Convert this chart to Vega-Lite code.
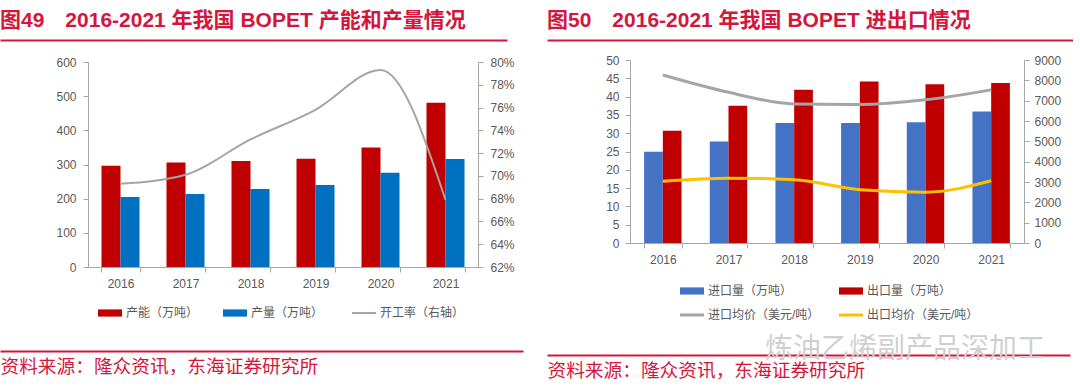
{
  "$schema": "https://vega.github.io/schema/vega-lite/v6.json",
  "padding": {"top": 10, "left": 0, "right": 0, "bottom": 0},
  "background": "white",
  "config": {
    "view": {"stroke": null},
    "font": "Liberation Sans, Noto Sans CJK SC",
    "axis": {
      "labelFont": "Liberation Sans, Noto Sans CJK SC",
      "labelFontSize": 12,
      "labelColor": "#595959",
      "domainColor": "#A6A6A6",
      "tickColor": "#A6A6A6",
      "grid": false,
      "tickSize": 5
    },
    "legend": {
      "labelFont": "Liberation Sans, Noto Sans CJK SC",
      "labelFontSize": 12,
      "labelColor": "#595959",
      "padding": 0,
      "labelOffset": 10,
      "symbolSize": 576
    }
  },
  "spacing": 24,
  "resolve": {"scale": {"color": "independent", "xOffset": "independent"}, "legend": {"color": "independent"}},
  "hconcat": [
    {
      "spacing": 16,
      "resolve": {"scale": {"color": "independent", "xOffset": "independent"}, "legend": {"color": "independent"}},
      "vconcat": [
        {
          "width": 507,
          "height": 1,
          "title": {"text": "图49\u30002016-2021 年我国 BOPET 产能和产量情况", "anchor": "start", "frame": "group", "baseline": "alphabetic", "offset": -9, "fontSize": 21, "fontWeight": "bold", "color": "#D4163C", "font": "Liberation Sans, Noto Sans CJK SC"},
          "data": {"values": [{"k": 0.5}]},
          "mark": {"type": "point", "opacity": 0, "size": 0},
          "encoding": {
            "x": {"field": "k", "type": "quantitative", "scale": {"domain": [0, 1], "nice": false}, "axis": {"labels": false, "ticks": false, "grid": false, "title": null, "domainColor": "#D4163C", "domainWidth": 2, "minExtent": 0}}
          }
        },
        {
          "spacing": 0,
          "resolve": {"scale": {"color": "independent", "xOffset": "independent"}, "legend": {"color": "independent"}},
          "hconcat": [
            {
              "width": 1,
              "height": 1,
              "data": {"values": [{"k": 0}]},
              "mark": {"type": "point", "opacity": 0, "size": 0}
            },
            {
              "width": 390,
              "height": 205,
              "layer": [
                {
                  "data": {"values": [
                    {"year": "2016", "series": "产能（万吨）", "value": 296},
                    {"year": "2016", "series": "产量（万吨）", "value": 205},
                    {"year": "2017", "series": "产能（万吨）", "value": 306},
                    {"year": "2017", "series": "产量（万吨）", "value": 214},
                    {"year": "2018", "series": "产能（万吨）", "value": 310},
                    {"year": "2018", "series": "产量（万吨）", "value": 228},
                    {"year": "2019", "series": "产能（万吨）", "value": 317},
                    {"year": "2019", "series": "产量（万吨）", "value": 240},
                    {"year": "2020", "series": "产能（万吨）", "value": 350},
                    {"year": "2020", "series": "产量（万吨）", "value": 276},
                    {"year": "2021", "series": "产能（万吨）", "value": 481},
                    {"year": "2021", "series": "产量（万吨）", "value": 316}
                  ]},
                  "mark": {"type": "bar", "width": {"band": 1}},
                  "encoding": {
                    "x": {"field": "year", "type": "nominal", "scale": {"type": "band", "paddingInner": 0.415, "paddingOuter": 0.2075}, "axis": {"title": null, "labelAngle": 0, "tickBand": "extent", "labelPadding": 6}},
                    "xOffset": {"field": "series", "type": "nominal", "scale": {"domain": ["产能（万吨）", "产量（万吨）"], "paddingInner": 0, "paddingOuter": 0}},
                    "y": {"field": "value", "type": "quantitative", "scale": {"domain": [0, 600], "nice": false}, "axis": {"title": null, "values": [0, 100, 200, 300, 400, 500, 600], "minExtent": 87, "labelPadding": 7}},
                    "color": {
                      "field": "series", "type": "nominal",
                      "scale": {"domain": ["产能（万吨）", "产量（万吨）", "开工率（右轴）"], "range": ["#C00000", "#0070C0", "#A5A5A5"]},
                      "legend": {
                        "title": null, "orient": "none", "direction": "horizontal", "legendX": 16, "legendY": 245, "columnPadding": 24,
                        "encode": {"symbols": {"update": {
                          "shape": {"signal": "datum.value === '开工率（右轴）' ? 'M-1,0H1' : 'M-1,-0.3H1V0.3H-1Z'"},
                          "fill": {"signal": "datum.value === '产能（万吨）' ? '#C00000' : datum.value === '产量（万吨）' ? '#0070C0' : 'transparent'"},
                          "stroke": {"signal": "datum.value === '开工率（右轴）' ? '#A5A5A5' : 'transparent'"},
                          "strokeWidth": {"signal": "datum.value === '开工率（右轴）' ? 2 : 0"},
                          "opacity": {"value": 1},
                          "size": {"value": 576}
                        }}}
                      }
                    }
                  }
                },
                {
                  "data": {"values": [
                    {"year": "2016", "series": "开工率（右轴）", "rate": 0.693},
                    {"year": "2017", "series": "开工率（右轴）", "rate": 0.701},
                    {"year": "2018", "series": "开工率（右轴）", "rate": 0.732},
                    {"year": "2019", "series": "开工率（右轴）", "rate": 0.758},
                    {"year": "2020", "series": "开工率（右轴）", "rate": 0.793},
                    {"year": "2021", "series": "开工率（右轴）", "rate": 0.679}
                  ]},
                  "mark": {"type": "line", "interpolate": "monotone", "strokeWidth": 2},
                  "encoding": {
                    "x": {"field": "year", "type": "nominal", "scale": {"type": "band"}},
                    "y": {"field": "rate", "type": "quantitative", "scale": {"domain": [0.62, 0.8], "nice": false, "zero": false}, "axis": {"title": null, "orient": "right", "format": ".0%", "values": [0.62, 0.64, 0.66, 0.68, 0.7, 0.72, 0.74, 0.76, 0.78, 0.8], "labelPadding": 7}},
                    "color": {"field": "series", "type": "nominal"}
                  }
                }
              ],
              "resolve": {"scale": {"y": "independent"}}
            }
          ]
        },
        {
          "width": 523,
          "height": 16,
          "data": {"values": [{"k": 0.5}]},
          "mark": {"type": "point", "opacity": 0, "size": 0},
          "encoding": {
            "x": {"field": "k", "type": "quantitative", "scale": {"domain": [0, 1], "nice": false}, "axis": {"orient": "bottom", "labels": false, "ticks": false, "grid": false, "domainColor": "#D4163C", "domainWidth": 2, "minExtent": 0, "title": "资料来源：隆众资讯，东海证券研究所", "titleAnchor": "start", "titleAlign": "left", "titleBaseline": "top", "titleFontSize": 18.7, "titleFontWeight": "normal", "titleColor": "#D4163C", "titlePadding": 6, "titleFont": "Liberation Sans, Noto Sans CJK SC"}}
          }
        }
      ]
    },
    {
      "spacing": 14,
      "resolve": {"scale": {"color": "independent", "xOffset": "independent"}, "legend": {"color": "independent"}},
      "vconcat": [
        {
          "width": 526,
          "height": 1,
          "title": {"text": "图50\u30002016-2021 年我国 BOPET 进出口情况", "anchor": "start", "frame": "group", "baseline": "alphabetic", "offset": -9, "fontSize": 21, "fontWeight": "bold", "color": "#D4163C", "font": "Liberation Sans, Noto Sans CJK SC"},
          "data": {"values": [{"k": 0.5}]},
          "mark": {"type": "point", "opacity": 0, "size": 0},
          "encoding": {
            "x": {"field": "k", "type": "quantitative", "scale": {"domain": [0, 1], "nice": false}, "axis": {"labels": false, "ticks": false, "grid": false, "title": null, "domainColor": "#D4163C", "domainWidth": 2, "minExtent": 0}}
          }
        },
        {
          "spacing": 0,
          "resolve": {"scale": {"color": "independent", "xOffset": "independent"}, "legend": {"color": "independent"}},
          "hconcat": [
            {
              "width": 1,
              "height": 1,
              "data": {"values": [{"k": 0}]},
              "mark": {"type": "point", "opacity": 0, "size": 0}
            },
            {
              "width": 394,
              "height": 183,
              "layer": [
                {
                  "data": {"values": [
                    {"year": "2016", "series": "进口量（万吨）", "value": 24.9},
                    {"year": "2016", "series": "出口量（万吨）", "value": 30.7},
                    {"year": "2017", "series": "进口量（万吨）", "value": 27.7},
                    {"year": "2017", "series": "出口量（万吨）", "value": 37.5},
                    {"year": "2018", "series": "进口量（万吨）", "value": 32.8},
                    {"year": "2018", "series": "出口量（万吨）", "value": 41.9},
                    {"year": "2019", "series": "进口量（万吨）", "value": 32.8},
                    {"year": "2019", "series": "出口量（万吨）", "value": 44.1},
                    {"year": "2020", "series": "进口量（万吨）", "value": 33.0},
                    {"year": "2020", "series": "出口量（万吨）", "value": 43.4},
                    {"year": "2021", "series": "进口量（万吨）", "value": 35.9},
                    {"year": "2021", "series": "出口量（万吨）", "value": 43.7}
                  ]},
                  "mark": {"type": "bar", "width": {"band": 1}},
                  "encoding": {
                    "x": {"field": "year", "type": "nominal", "scale": {"type": "band", "paddingInner": 0.43, "paddingOuter": 0.215}, "axis": {"title": null, "labelAngle": 0, "tickBand": "extent", "labelPadding": 6}},
                    "xOffset": {"field": "series", "type": "nominal", "scale": {"domain": ["进口量（万吨）", "出口量（万吨）"], "paddingInner": 0, "paddingOuter": 0}},
                    "y": {"field": "value", "type": "quantitative", "scale": {"domain": [0, 50], "nice": false}, "axis": {"title": null, "values": [0, 5, 10, 15, 20, 25, 30, 35, 40, 45, 50], "minExtent": 82, "labelPadding": 6}},
                    "color": {
                      "field": "series", "type": "nominal",
                      "scale": {"domain": ["进口量（万吨）", "进口均价（美元/吨）", "出口量（万吨）", "出口均价（美元/吨）"], "range": ["#4472C4", "#A5A5A5", "#C00000", "#FFC000"]},
                      "legend": {
                        "title": null, "orient": "none", "columns": 2, "legendX": 56, "legendY": 225, "columnPadding": 13, "rowPadding": 12,
                        "encode": {"symbols": {"update": {
                          "shape": {"signal": "(datum.value === '进口均价（美元/吨）' || datum.value === '出口均价（美元/吨）') ? 'M-1,0H1' : 'M-1,-0.3H1V0.3H-1Z'"},
                          "fill": {"signal": "datum.value === '进口量（万吨）' ? '#4472C4' : datum.value === '出口量（万吨）' ? '#C00000' : 'transparent'"},
                          "stroke": {"signal": "datum.value === '进口均价（美元/吨）' ? '#A5A5A5' : datum.value === '出口均价（美元/吨）' ? '#FFC000' : 'transparent'"},
                          "strokeWidth": {"signal": "(datum.value === '进口均价（美元/吨）' || datum.value === '出口均价（美元/吨）') ? 3 : 0"},
                          "opacity": {"value": 1},
                          "size": {"value": 576}
                        }}}
                      }
                    }
                  }
                },
                {
                  "data": {"values": [
                    {"year": "2016", "series": "进口均价（美元/吨）", "price": 8260},
                    {"year": "2017", "series": "进口均价（美元/吨）", "price": 7410},
                    {"year": "2018", "series": "进口均价（美元/吨）", "price": 6840},
                    {"year": "2019", "series": "进口均价（美元/吨）", "price": 6810},
                    {"year": "2020", "series": "进口均价（美元/吨）", "price": 7040},
                    {"year": "2021", "series": "进口均价（美元/吨）", "price": 7530},
                    {"year": "2016", "series": "出口均价（美元/吨）", "price": 3040},
                    {"year": "2017", "series": "出口均价（美元/吨）", "price": 3190},
                    {"year": "2018", "series": "出口均价（美元/吨）", "price": 3110},
                    {"year": "2019", "series": "出口均价（美元/吨）", "price": 2620},
                    {"year": "2020", "series": "出口均价（美元/吨）", "price": 2500},
                    {"year": "2021", "series": "出口均价（美元/吨）", "price": 3060}
                  ]},
                  "mark": {"type": "line", "interpolate": "monotone", "strokeWidth": 3},
                  "encoding": {
                    "x": {"field": "year", "type": "nominal", "scale": {"type": "band"}},
                    "y": {"field": "price", "type": "quantitative", "scale": {"domain": [0, 9000], "nice": false}, "axis": {"title": null, "orient": "right", "format": "d", "values": [0, 1000, 2000, 3000, 4000, 5000, 6000, 7000, 8000, 9000], "labelPadding": 5}},
                    "color": {"field": "series", "type": "nominal"}
                  }
                }
              ],
              "resolve": {"scale": {"y": "independent"}}
            }
          ]
        },
        {
          "width": 523,
          "height": 9,
          "title": {"text": "炼油乙烯副产品深加工", "orient": "bottom", "anchor": "end", "frame": "group", "baseline": "middle", "offset": -30, "dx": -25, "fontSize": 28, "fontWeight": "normal", "color": "#D0D0D0", "font": "Noto Sans CJK SC"},
          "data": {"values": [{"k": 0.5}]},
          "mark": {"type": "point", "opacity": 0, "size": 0},
          "encoding": {
            "x": {"field": "k", "type": "quantitative", "scale": {"domain": [0, 1], "nice": false}, "axis": {"orient": "bottom", "labels": false, "ticks": false, "grid": false, "domainColor": "#D4163C", "domainWidth": 2, "minExtent": 0, "title": "资料来源：隆众资讯，东海证券研究所", "titleAnchor": "start", "titleAlign": "left", "titleBaseline": "top", "titleFontSize": 18.7, "titleFontWeight": "normal", "titleColor": "#D4163C", "titlePadding": 6, "titleFont": "Liberation Sans, Noto Sans CJK SC"}}
          }
        }
      ]
    }
  ]
}
